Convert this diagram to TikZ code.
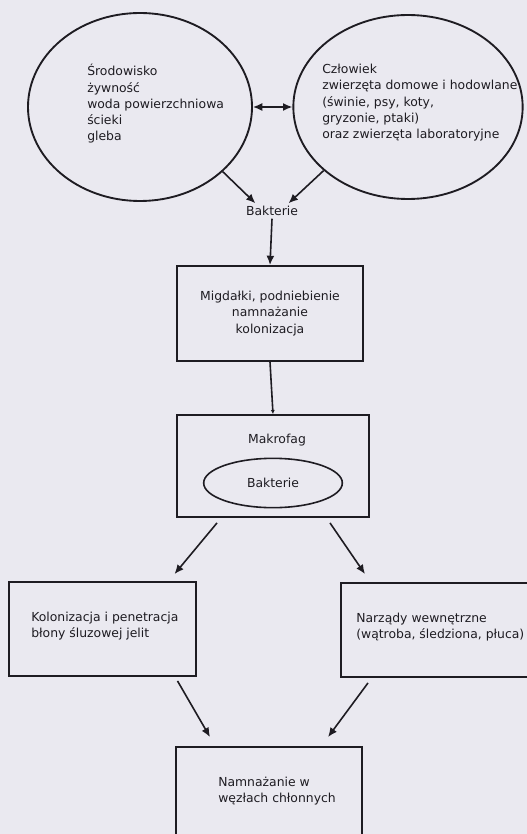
\documentclass[tikz,border=0pt]{standalone}
\usepackage{fontspec}
\setmainfont{DejaVu Sans}
\usetikzlibrary{arrows.meta,shapes.geometric}
\definecolor{paper}{RGB}{234,233,240}
\definecolor{ink}{RGB}{30,28,34}

\begin{document}
\begin{tikzpicture}[x=0.75pt,y=-0.75pt,
    every node/.style={text=ink,font=\fontsize{9.3}{12.2}\selectfont},
    oval/.style={draw=ink,line width=1.4pt,ellipse,inner sep=0pt},
    box/.style={draw=ink,line width=1.4pt,rectangle,inner sep=0pt},
    txt/.style={align=left,anchor=north west,inner sep=0pt},
    arr/.style={draw=ink,line width=1.2pt,-{Latex[length=7pt,width=6pt]}}]

% page and paper
\useasboundingbox (0,0) rectangle (527,834);
\fill[paper] (0,0) rectangle (527,834);
\clip (0,0) rectangle (527,834);

% Top ovals
\node[oval,minimum width=168pt,minimum height=141pt] (srod) at (140,107) {};
\node[txt] (srodtxt) at (87,64) {Środowisko\\żywność\\woda powierzchniowa\\ścieki\\gleba};

\node[oval,minimum width=172pt,minimum height=138pt] (czlow) at (408,107) {};
\node[txt] (czlowtxt) at (322,64) {Człowiek\\zwierzęta domowe i hodowlane\\(świnie, psy, koty,\\gryzonie, ptaki)\\oraz zwierzęta laboratoryjne};

\draw[draw=ink,line width=1.2pt,{Latex[length=7pt,width=6pt]}-{Latex[length=7pt,width=6pt]}] (srod.east) -- (czlow.west);

% Bakterie
\node[inner sep=2pt] (bakt) at (272,211) {Bakterie};
\draw[arr] (srod.-38) -- (bakt.155);
\draw[arr] (czlow.217) -- (bakt.25);

% Migdalki
\node[box,minimum width=139.5pt,minimum height=71.25pt,align=center] (migd) at (270,313.5)
    {Migdałki, podniebienie\\namnażanie\\kolonizacja};
\draw[arr] (bakt.south) -- (migd.north);

% Makrofag with bacteria inside
\node[box,minimum width=144pt,minimum height=76.5pt] (makro) at (273,466) {};
\node (makrotxt) at (277,440) {Makrofag};
\node[oval,line width=1.2pt,minimum width=104pt,minimum height=37pt] (wnetrze) at (273,483) {Bakterie};
\draw[draw=ink,line width=1.2pt,-{Latex[length=3pt,width=3pt]}] (migd.south) -- (makro.north);

% Lower boxes
\node[box,minimum width=140.25pt,minimum height=70.5pt] (kolon) at (102.5,629) {};
\node[txt] (kolontxt) at (31,612) {Kolonizacja i penetracja\\błony śluzowej jelit};

\node[box,minimum width=145.5pt,minimum height=70.5pt] (narz) at (438,630) {};
\node[txt] (narztxt) at (356,613) {Narządy wewnętrzne\\(wątroba, śledziona, płuca)};

\draw[arr] ([shift={(-56,5)}]makro.south) -- ([shift={(72,-7)}]kolon.north);
\draw[arr] ([shift={(57,5)}]makro.south) -- ([shift={(-73,-8)}]narz.north);

% Lymph nodes
\node[box,minimum width=139.5pt,minimum height=84.75pt] (namn) at (269,803.5) {};
\node[txt] (namntxt) at (218,777) {Namnażanie w\\węzłach chłonnych};

\draw[arr] ([shift={(75,4)}]kolon.south) -- ([shift={(-59,-9)}]namn.north);
\draw[arr] ([shift={(-70,5)}]narz.south) -- ([shift={(59,-9)}]namn.north);

\end{tikzpicture}
\end{document}
